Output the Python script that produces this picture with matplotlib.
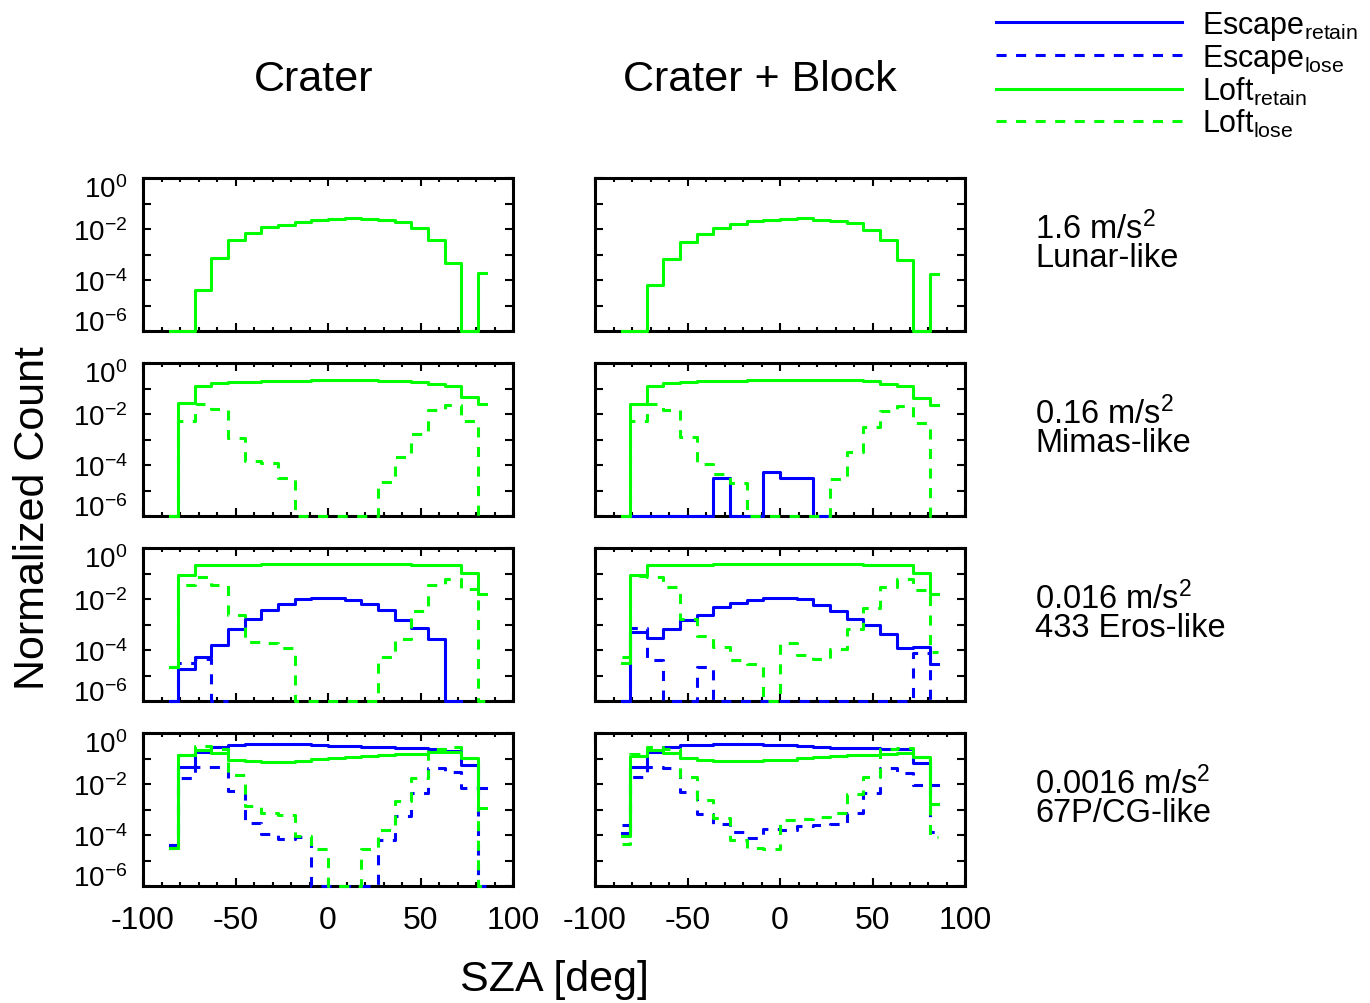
import numpy as np
import matplotlib
matplotlib.use('Agg')
import matplotlib.pyplot as plt
from matplotlib.ticker import FixedLocator, FixedFormatter, MultipleLocator
from matplotlib.transforms import ScaledTranslation

plt.rcParams['font.family'] = 'Liberation Sans'
plt.rcParams['mathtext.fontset'] = 'custom'
plt.rcParams['mathtext.rm'] = 'Liberation Sans'
plt.rcParams['mathtext.it'] = 'Liberation Sans'
plt.rcParams['mathtext.default'] = 'regular'

Z = -np.inf   # empty bin, sits on the bottom axis
N = np.nan    # bin not plotted

# SZA bin centres [deg]
sza = np.arange(-85.5, 90.0, 9.0)

# log10 of normalized count per SZA bin
# --- 1.6 m/s2, Lunar-like
lunar_crater_loft_retain = [Z, Z, -4.38, -3.15, -2.42, -2.16, -1.93, -1.83, -1.71, -1.63,
                            -1.61, -1.57, -1.59, -1.65, -1.71, -1.97, -2.42, -3.33, Z, -3.74]
lunar_block_loft_retain = [Z, Z, -4.21, -3.18, -2.50, -2.21, -1.95, -1.82, -1.70, -1.63,
                           -1.61, -1.57, -1.63, -1.67, -1.76, -2.03, -2.44, -3.20, Z, -3.78]

# --- 0.16 m/s2, Mimas-like
mimas_crater_loft_retain = [Z, -1.56, -0.90, -0.78, -0.76, -0.73, -0.72, -0.71, -0.69, -0.68,
                            -0.68, -0.68, -0.68, -0.69, -0.71, -0.73, -0.81, -0.90, -1.33, -1.59]
mimas_crater_loft_lose = [Z, -2.27, -1.59, -1.79, -2.94, -3.84, -3.91, -4.50, Z, Z,
                          Z, Z, Z, -4.67, -3.69, -2.77, -1.86, -1.66, -2.27, Z]
mimas_block_esc_retain = [N, Z, Z, Z, Z, Z, -4.51, Z, Z, -4.27,
                          -4.50, -4.50, Z, N, N, N, N, N, N, N]
mimas_block_loft_retain = [Z, -1.59, -0.90, -0.78, -0.74, -0.71, -0.70, -0.69, -0.68, -0.67,
                           -0.66, -0.66, -0.66, -0.67, -0.68, -0.71, -0.81, -0.89, -1.36, -1.63]
mimas_block_loft_lose = [Z, -2.27, -1.62, -1.86, -2.90, -3.95, -4.37, -4.71, Z, Z,
                         Z, Z, Z, -4.54, -3.50, -2.51, -1.88, -1.70, -2.35, Z]

# --- 0.016 m/s2, 433 Eros-like
eros_crater_esc_retain = [Z, -4.73, -4.27, -3.79, -3.16, -2.77, -2.42, -2.18, -2.01, -1.96,
                          -1.96, -2.05, -2.21, -2.44, -2.81, -3.14, -3.56, Z, N, N]
eros_crater_esc_lose = [Z, -4.51, -4.34, Z, N, N, N, N, N, N,
                        N, N, N, N, N, N, N, N, N, N]
eros_crater_loft_retain = [-4.67, -1.05, -0.66, -0.65, -0.65, -0.65, -0.64, -0.64, -0.64, -0.64,
                           -0.64, -0.64, -0.64, -0.64, -0.64, -0.65, -0.65, -0.66, -0.98, -1.79]
eros_crater_loft_lose = [-4.67, -1.44, -1.14, -1.46, -2.61, -3.69, -3.73, -3.92, Z, Z,
                         Z, Z, Z, -4.27, -3.56, -2.48, -1.46, -1.20, -1.62, Z]
eros_block_esc_retain = [Z, -3.29, -3.53, -3.18, -2.84, -2.61, -2.31, -2.16, -2.03, -1.95,
                         -1.95, -2.01, -2.24, -2.47, -2.77, -3.03, -3.36, -3.92, -3.90, -4.54]
eros_block_esc_lose = [Z, -3.12, -4.41, Z, Z, -4.67, Z, Z, Z, Z,
                       Z, Z, Z, Z, Z, Z, Z, Z, -4.10, Z]
eros_block_loft_retain = [-4.50, -1.05, -0.66, -0.65, -0.65, -0.65, -0.64, -0.64, -0.64, -0.64,
                          -0.64, -0.64, -0.64, -0.64, -0.64, -0.65, -0.65, -0.66, -0.98, -1.79]
eros_block_loft_lose = [-4.27, -1.10, -1.14, -1.53, -2.77, -3.45, -3.88, -4.41, -4.54, Z,
                        -3.71, -4.18, -4.34, -3.95, -3.16, -2.35, -1.53, -1.23, -1.66, -4.08]

# --- 0.0016 m/s2, 67P/CG-like
cg_crater_esc_retain = [-4.41, -1.32, -0.73, -0.54, -0.47, -0.45, -0.44, -0.44, -0.45, -0.47,
                        -0.50, -0.52, -0.54, -0.55, -0.57, -0.60, -0.64, -0.70, -1.26, -2.14]
cg_crater_esc_lose = [-4.41, -1.78, -1.33, -1.33, -2.28, -3.52, -3.95, -4.15, -4.08, Z,
                      Z, Z, Z, -4.19, -3.25, -2.37, -1.39, -1.52, -2.14, Z]
cg_crater_loft_retain = [-4.51, -0.87, -0.67, -0.80, -1.04, -1.10, -1.14, -1.14, -1.09, -1.00,
                         -0.97, -0.93, -0.89, -0.86, -0.84, -0.81, -0.76, -0.73, -0.97, -2.96]
cg_crater_loft_lose = [-4.51, -0.87, -0.50, -0.63, -1.65, -2.86, -3.13, -3.20, -4.04, -4.54,
                       Z, Z, -4.54, -3.82, -2.68, -1.76, -0.63, -0.56, -0.97, Z]
cg_block_esc_retain = [-3.91, -1.32, -0.73, -0.56, -0.49, -0.46, -0.44, -0.43, -0.44, -0.46,
                       -0.49, -0.51, -0.54, -0.57, -0.58, -0.60, -0.62, -0.64, -1.19, -2.02]
cg_block_esc_lose = [-3.59, -1.74, -1.32, -1.39, -2.33, -3.16, -3.57, -3.88, -4.11, -3.75,
                     -3.82, -3.65, -3.62, -3.56, -3.14, -2.35, -1.39, -1.56, -2.05, -3.88]
cg_block_loft_retain = [-4.05, -0.89, -0.67, -0.80, -0.97, -1.06, -1.10, -1.10, -1.08, -1.06,
                        -1.04, -0.98, -0.93, -0.91, -0.88, -0.86, -0.83, -0.80, -0.93, -2.77]
cg_block_loft_lose = [-4.34, -0.84, -0.54, -0.63, -1.72, -2.64, -3.33, -4.21, -4.51, -4.54,
                      -3.43, -3.36, -3.29, -3.12, -2.41, -1.72, -0.64, -0.60, -0.93, -4.08]

col_titles = ['Crater', 'Crater + Block']
row_gravity = ['1.6 m/s$^2$', '0.16 m/s$^2$', '0.016 m/s$^2$', '0.0016 m/s$^2$']
row_body = ['Lunar-like', 'Mimas-like', '433 Eros-like', '67P/CG-like']

# (escape retain, escape lose, loft retain, loft lose) for each row and column
panels = [
    [(None, None, lunar_crater_loft_retain, None),
     (None, None, lunar_block_loft_retain, None)],
    [(None, None, mimas_crater_loft_retain, mimas_crater_loft_lose),
     (mimas_block_esc_retain, None, mimas_block_loft_retain, mimas_block_loft_lose)],
    [(eros_crater_esc_retain, eros_crater_esc_lose, eros_crater_loft_retain, eros_crater_loft_lose),
     (eros_block_esc_retain, eros_block_esc_lose, eros_block_loft_retain, eros_block_loft_lose)],
    [(cg_crater_esc_retain, cg_crater_esc_lose, cg_crater_loft_retain, cg_crater_loft_lose),
     (cg_block_esc_retain, cg_block_esc_lose, cg_block_loft_retain, cg_block_loft_lose)],
]

BLUE = '#0000ff'
GREEN = '#00ff00'
LW = 2.2
DASH = (0, (3.3, 3.1))
styles = [(BLUE, '-'), (BLUE, DASH), (GREEN, '-'), (GREEN, DASH)]
names = ['Escape$_{retain}$', 'Escape$_{lose}$', 'Loft$_{retain}$', 'Loft$_{lose}$']
YMIN, YMAX = 1e-6, 1e0

W, H = 1370, 1004
fig = plt.figure(figsize=(W / 100, H / 100), dpi=100)

col_x = [143, 595]
row_y = [179, 364, 549, 734]
ax_w, ax_h = 370, 153

handles = [None] * 4
for r in range(4):
    for c in range(2):
        ax = fig.add_axes([col_x[c] / W, 1 - (row_y[r] + ax_h) / H, ax_w / W, ax_h / H])
        ax.set_yscale('log')
        ax.set_xlim(-100, 100)
        ax.set_ylim(YMIN, YMAX)

        for k, logc in enumerate(panels[r][c]):
            if logc is None:
                continue
            y = 10.0 ** np.asarray(logc, dtype=float)
            y = np.where(y == 0, YMIN, y)
            color, ls = styles[k]
            line, = ax.step(sza, y, where='mid', color=color, lw=LW, linestyle=ls,
                            clip_on=False, zorder=3 + k)
            handles[k] = line

        for s in ax.spines.values():
            s.set_linewidth(2.2)
        ax.tick_params(which='both', direction='in', top=True, right=True,
                       width=1.5, labelsize=20)
        ax.tick_params(which='major', length=6)
        ax.tick_params(which='minor', length=3)
        ax.tick_params(axis='y', pad=11)

        decades = [10.0 ** e for e in range(-6, 1)]
        ax.yaxis.set_major_locator(FixedLocator(decades))
        ax.yaxis.set_minor_locator(FixedLocator([]))
        if c == 0:
            ylabels = ['$10^{%d}$' % e if e % 2 == 0 else '' for e in range(-6, 1)]
            ax.yaxis.set_major_formatter(FixedFormatter(ylabels))
        else:
            ax.set_yticklabels([])

        ax.xaxis.set_major_locator(FixedLocator([-100, -50, 0, 50, 100]))
        ax.xaxis.set_minor_locator(MultipleLocator(10))
        if r == 3:
            ax.set_xticklabels(['-100', '-50', '0', '50', '100'], fontsize=23)
            ax.tick_params(axis='x', pad=14)
        else:
            ax.set_xticklabels([])

        # end labels of the log axis sit just inside the frame
        if c == 0:
            yticks = ax.yaxis.get_major_ticks()
            for tick, dy in ((yticks[0], 11), (yticks[-1], -8)):
                lab = tick.label1
                lab.set_transform(lab.get_transform()
                                  + ScaledTranslation(0, dy / 100, fig.dpi_scale_trans))

    fig.text(1035 / W, 1 - (row_y[r] + 64) / H, row_gravity[r] + '\n' + row_body[r],
             fontsize=23.5, ha='left', va='center', linespacing=0.89)

fig.text(314 / W, 1 - 80 / H, col_titles[0], fontsize=31, ha='center', va='center')
fig.text(760 / W, 1 - 80 / H, col_titles[1], fontsize=31, ha='center', va='center')
fig.text(33 / W, 1 - 518 / H, 'Normalized Count', fontsize=31, rotation=90,
         ha='center', va='center')
fig.text(554 / W, 1 - 980 / H, 'SZA [deg]', fontsize=31, ha='center', va='center')

fig.legend(handles, names, loc='upper left', bbox_to_anchor=(996 / W, 1 - 10 / H),
           frameon=False, fontsize=22, handlelength=6.1, handletextpad=0.65,
           labelspacing=0.0, borderaxespad=0, borderpad=0)

fig.savefig('out.png', dpi=100)
